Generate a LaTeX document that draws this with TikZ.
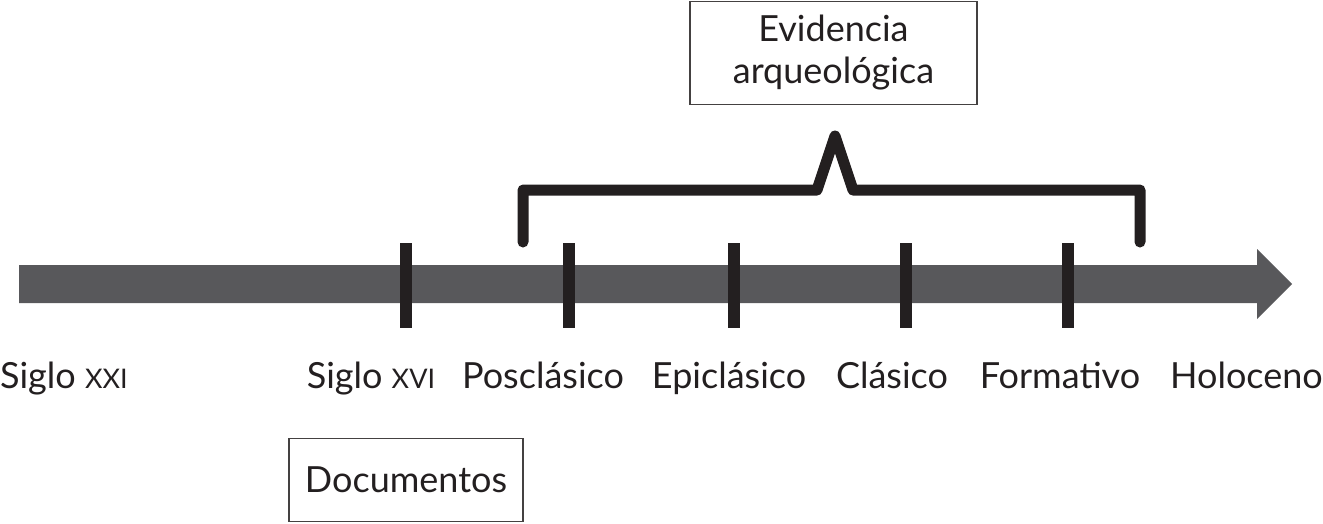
\documentclass[tikz,border=0pt]{standalone}
\usepackage{fontspec}
\setmainfont{Lato}
\definecolor{ink}{HTML}{231F20}
\definecolor{shaft}{HTML}{58585B}
\begin{document}
\begin{tikzpicture}[x=1pt,y=-1pt,
  lbl/.style={anchor=base,inner sep=0pt,text=ink,font=\fontsize{36}{40}\selectfont},
  boxed/.style={draw=ink!85,line width=1.3pt,inner sep=0pt,text=ink,align=center,font=\fontsize{36}{42}\selectfont},
  tick/.style={draw=ink,line width=12pt},
  brace/.style={draw=ink,line width=11pt,line cap=round,line join=round}]
\useasboundingbox (0,0) rectangle (1323,523);
% arrow
\fill[shaft] (19,265) -- (1257,265) -- (1257,249) -- (1292,284) -- (1257,319) -- (1257,303) -- (19,303) -- cycle;
% ticks
\foreach \x in {406,569,734,906,1068} \draw[tick] (\x,243) -- (\x,328);
% brace
\coordinate (bl) at (523,242);
\coordinate (br) at (1140,242);
\draw[brace] (bl) -- (523,190) -- (817,190) -- (835,136) -- (853,190) -- (1140,190) -- (br);
% boxes
\node[boxed,minimum width=287pt,minimum height=103pt] (evid) at (833.5,53) {\raisebox{-3pt}{Evidencia}\\\raisebox{-3pt}{arqueológica}};
\node[boxed,minimum width=234pt,minimum height=83pt] (docs) at (406,480) {Documentos};
% labels
\node[lbl,anchor=base west] (s21) at (0,388) {Siglo {\fontsize{27}{30}\selectfont XXI}};
\node[lbl] (s16) at (371,388) {Siglo {\fontsize{27}{30}\selectfont XVI}};
\node[lbl] (pos) at (543,388) {Posclásico};
\node[lbl] (epi) at (729,388) {Epiclásico};
\node[lbl] (cla) at (892,388) {Clásico};
\node[lbl] (for) at (1060,388) {Formativo};
\node[lbl,anchor=base east] (hol) at (1323,388) {Holoceno};
\end{tikzpicture}
\end{document}
